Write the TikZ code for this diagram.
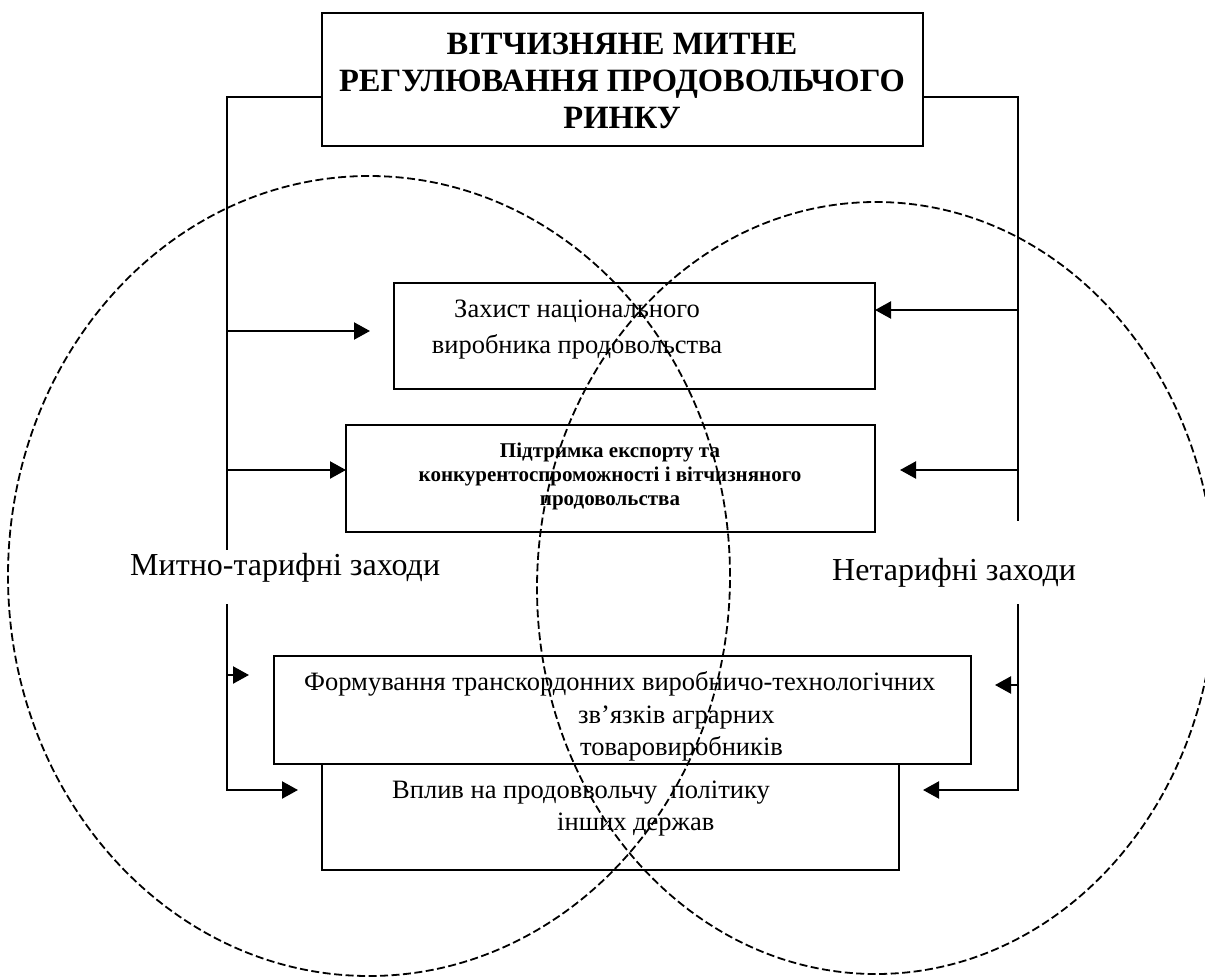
\documentclass[tikz,border=0pt]{standalone}
\usepackage{fontspec}
\setmainfont{Liberation Serif}
\usetikzlibrary{arrows.meta}
\begin{document}
\begin{tikzpicture}[x=1pt,y=-1pt,
  box/.style={draw, line width=2.2pt, inner sep=0pt},
  conn/.style={line width=2.2pt},
  arr/.style={line width=2.2pt, -{Triangle[length=16pt,width=17pt]}},
  circ/.style={line width=1.8pt, dash pattern=on 8pt off 3.5pt},
  ttl/.style={inner sep=0pt, anchor=base, font=\bfseries\fontsize{32.5}{37}\selectfont},
  btxt/.style={inner sep=0pt, anchor=base, font=\bfseries\fontsize{21}{24}\selectfont},
  txt/.style={inner sep=0pt, font=\fontsize{26.5}{32}\selectfont},
  lbl/.style={inner sep=0pt, anchor=base west, font=\fontsize{32}{36}\selectfont}
]
\useasboundingbox (0,0) rectangle (1205,977);
% boxes
\node[box, minimum width=601pt, minimum height=133pt] (title) at (622.5,79.5) {};
\node[box, minimum width=481pt, minimum height=106pt] (b1) at (634.5,336) {};
\node[box, minimum width=529pt, minimum height=107pt] (b2) at (610.5,478.5) {};
\node[box, minimum width=697pt, minimum height=108pt] (b3) at (622.5,710) {};
\node[box, minimum width=577pt, minimum height=106pt] (b4) at (610.5,817) {};
% texts
\node[ttl] (t1) at (622,54) {ВІТЧИЗНЯНЕ МИТНЕ};
\node[ttl] (t2) at (622,91) {РЕГУЛЮВАННЯ ПРОДОВОЛЬЧОГО};
\node[ttl] (t3) at (622,128) {РИНКУ};
\node[txt, anchor=base] (s1a) at (577,317) {Захист національного};
\node[txt, anchor=base] (s1b) at (577,353) {виробника продовольства};
\node[btxt] (s2a) at (610,457) {Підтримка експорту та};
\node[btxt] (s2b) at (610,481) {конкурентоспроможності і вітчизняного};
\node[btxt] (s2c) at (610,505) {продовольства};
\node[txt, anchor=base west] (s3a) at (304,690) {Формування транскордонних виробничо-технологічних};
\node[txt, anchor=base west] (s3b) at (578,723) {зв’язків аграрних};
\node[txt, anchor=base west] (s3c) at (580,755) {товаровиробників};
\node[txt, anchor=base west] (s4a) at (392,798) {Вплив на продоввольчу\ \ політику};
\node[txt, anchor=base west] (s4b) at (557,830) {інших держав};
\node[lbl] (lm) at (130,575) {Митно-тарифні заходи};
\node[lbl] (ln) at (832,580) {Нетарифні заходи};
% junction coordinates
\coordinate (L0) at (227,97);
\coordinate (L1) at (227,550);
\coordinate (L2) at (227,604);
\coordinate (R0) at (1018,97);
\coordinate (R1) at (1018,521);
\coordinate (R2) at (1018,604);
\coordinate (a1) at (370,331);
\coordinate (a2) at (346,470);
\coordinate (a3) at (249,675);
\coordinate (a4) at (298,790);
\coordinate (c1) at (875,310);
\coordinate (c2) at (900,470);
\coordinate (c3) at (995,685);
\coordinate (c4) at (923,790);
% connectors
\draw[conn] (title.west |- L0) -- (L0) -- (L1);
\draw[conn] (title.east |- R0) -- (R0) -- (R1);
\draw[arr] (L0 |- a1) -- (a1);
\draw[arr] (L0 |- a2) -- (a2);
\draw[arr] (L0 |- a3) -- (a3);
\draw[arr] (L2) |- (a4);
\draw[arr] (R0 |- c1) -- (c1);
\draw[arr] (R0 |- c2) -- (c2);
\draw[arr] (R0 |- c3) -- (c3);
\draw[arr] (R2) |- (c4);
% dashed ellipses
\begin{scope}
\clip (0,0) rectangle (1205,977);
\draw[circ] (369,576) ellipse [x radius=361pt, y radius=400pt];
\draw[circ] (876,588) ellipse [x radius=339pt, y radius=386pt];
\end{scope}
\end{tikzpicture}
\end{document}
